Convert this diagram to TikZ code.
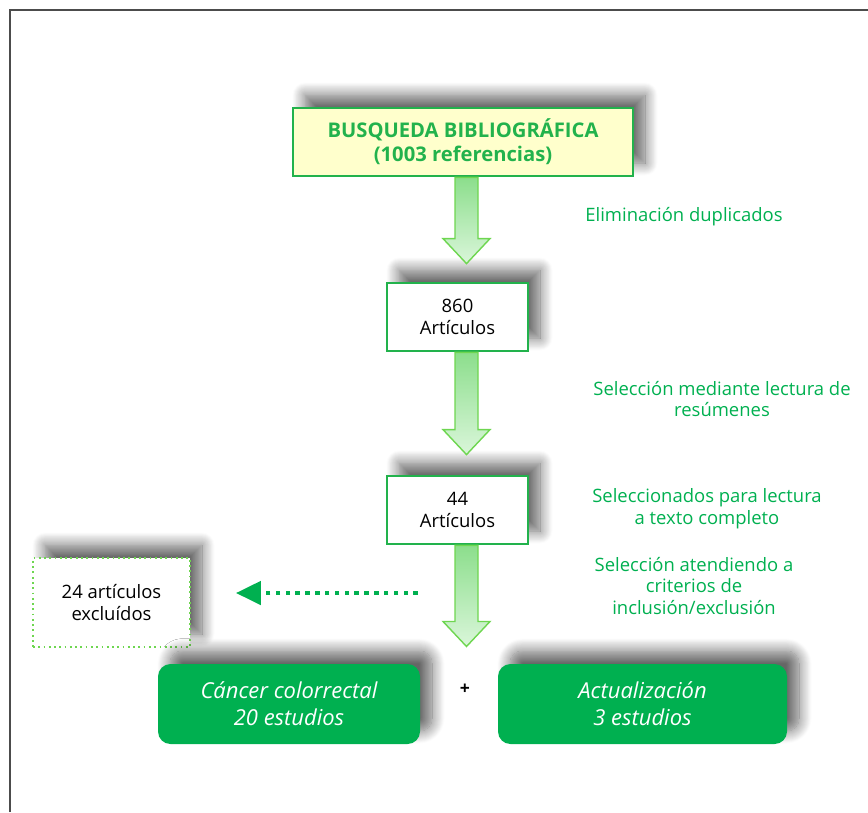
\documentclass[tikz,border=0pt]{standalone}
\usepackage{fontspec}
\setmainfont{Open Sans}
\usetikzlibrary{positioning,shadows.blur,arrows.meta,calc}

\definecolor{verde}{RGB}{0,176,80}
\definecolor{borde}{RGB}{34,178,76}
\definecolor{crema}{RGB}{255,255,204}
\definecolor{verdeclaro}{RGB}{110,214,80}
\definecolor{flechaA}{RGB}{140,222,140}
\definecolor{flechaB}{RGB}{218,246,218}

% flecha de bloque: del punto #1 hacia abajo hasta la punta #2
\newcommand{\flecha}[2]{%
  \path[bloque] let \p1=(#1), \p2=(#2) in
    (\x1-0.23cm,\y1) -- (\x1-0.23cm,\y2+0.5cm) -- (\x1-0.47cm,\y2+0.5cm)
    -- (\x1,\y2) -- (\x1+0.47cm,\y2+0.5cm) -- (\x1+0.23cm,\y2+0.5cm)
    -- (\x1+0.23cm,\y1) -- cycle;}

\begin{document}
\begin{tikzpicture}[semithick, node distance = 3.5cm and 3cm, on grid,
sombra/.style={blur shadow={shadow xshift=0.24cm, shadow yshift=0.26cm, shadow blur radius=0.25cm, shadow blur steps=14, shadow opacity=60}},
titulo/.style={rectangle, draw=borde, line width=1.6pt, fill=crema, sombra, align=center, inner sep=0pt,
  minimum width=6.8cm, minimum height=1.36cm, text=borde, font=\bfseries\fontsize{11.5}{13.6}\selectfont},
caja/.style={rectangle, draw=borde, line width=1.6pt, fill=white, sombra, align=center, inner sep=0pt,
  minimum width=2.82cm, minimum height=1.36cm, font=\fontsize{10.5}{12.5}\selectfont},
excluido/.style={rectangle, draw=verdeclaro, dotted, line width=1pt, fill=white, sombra, align=center, inner sep=0pt,
  minimum width=3.14cm, minimum height=1.78cm, font=\fontsize{10.5}{12.5}\selectfont},
resultado/.style={rectangle, rounded corners=0.25cm, fill=verde, sombra, align=center, inner sep=0pt,
  minimum height=1.6cm, text=white, font=\itshape\fontsize{12.5}{15.3}\selectfont},
nota/.style={align=center, text=verde, font=\fontsize{10.5}{12.5}\selectfont},
bloque/.style={draw=verdeclaro, line width=0.8pt, top color=flechaA, bottom color=flechaB},
punteada/.style={draw=verde, line width=2.6pt, dash pattern=on 2.6pt off 3pt, -{Triangle[length=0.5cm,width=0.46cm]}, shorten >=0.9cm},
marco/.style={draw=black!70, line width=1.1pt}]

\useasboundingbox (0,0) rectangle (17.36,-16.24);
\draw[marco] (0.2,-16.24) -- (0.2,-0.2) -- (17.36,-0.2);

\node[titulo] (busq) at (9.26,-2.84) {BUSQUEDA BIBLIOGRÁFICA\\(1003 referencias)};
\node[caja] (art860) [below = 3.5cm of busq, xshift=-0.11cm] {860\\Artículos};
\node[caja] (art44) [below = 3.86cm of art860] {44\\Artículos};
\node[excluido] (excl) at (2.23,-12.05) {24 artículos\\excluídos};
\node[resultado, minimum width=5.24cm] (cancer) at (5.78,-14.08) {Cáncer colorrectal\\20 estudios};
\node[resultado, minimum width=5.78cm] (actual) at (12.85,-14.08) {Actualización\\3 estudios};
\node[font=\bfseries\fontsize{10}{11}\selectfont] (mas) at (9.3,-13.78) {+};

\node[nota] (elim) at (13.68,-4.34) {Eliminación duplicados};
\node[nota] (selres) at (14.44,-7.98) {Selección mediante lectura de\\resúmenes};
\node[nota] (selcomp) at (14.14,-10.18) {Seleccionados para lectura\\a texto completo};
\node[nota] (selcrit) at (13.88,-11.72) {Selección atendiendo a\\criterios de\\inclusión/exclusión};

% eje de las flechas
\coordinate (eje) at (9.33,0);
\coordinate (t1) at ($(art860.north -| eje)+(0,0.36)$);
\coordinate (t2) at ($(art44.north -| eje)+(0,0.4)$);
\coordinate (t3) at ($(cancer.north -| eje)+(0,0.34)$);
\flecha{busq.south -| eje}{t1}
\flecha{art860.south -| eje}{t2}
\flecha{art44.south -| eje}{t3}

\coordinate (d0) at (8.36,-11.86);
\draw[punteada] (d0) -- (excl.east |- d0);
\end{tikzpicture}
\end{document}
